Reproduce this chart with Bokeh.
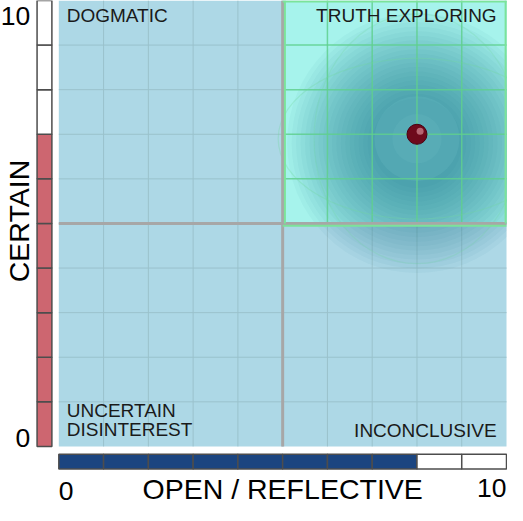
import numpy as np
from bokeh.plotting import figure
from bokeh.models import Range1d
from bokeh.core.properties import value
from bokeh.embed import file_html
from bokeh.resources import INLINE

# ---- data ----
open_reflective = 8      # horizontal score (0-10)
certain = 7              # vertical score (0-10)
segments = list(range(10))
grid_positions = list(range(1, 10))
tick_low, tick_high = "0", "10"
x_title = "OPEN / REFLECTIVE"
y_title = "CERTAIN"
q_tl = "DOGMATIC"
q_tr = "TRUTH EXPLORING"
q_bl = ["UNCERTAIN", "DISINTEREST"]
q_br = "INCONCLUSIVE"

FONT = value("Liberation Sans")


def rx(px):  # layout helper: horizontal pixel in reference -> data units
    return (px - 69) / 45.3


def ry(py):  # layout helper: vertical pixel in reference -> data units
    return (461 - py) / 45.3


p = figure(width=507, height=505,
           x_range=Range1d(rx(10), rx(523)), y_range=Range1d(ry(521), ry(8)),
           x_axis_type=None, y_axis_type=None,
           output_backend="svg", toolbar_location=None, min_border=0)
p.grid.visible = False
p.outline_line_color = None
p.background_fill_color = "white"
p.border_fill_color = "white"

# background
p.quad(left=0, right=10, bottom=0, top=10, fill_color="#ADD8E6", line_color=None)

# light grid
g = np.array(grid_positions, dtype=float)
p.segment(x0=g, y0=0, x1=g, y1=10, line_color="#9AC2CC", line_width=1)
p.segment(x0=0, y0=g, x1=10, y1=g, line_color="#9AC2CC", line_width=1)

# highlighted quadrant
p.quad(left=5, right=10, bottom=5, top=10, fill_color="#A6F3EC", line_color=None)

# shadow around the point
cx, cy = open_reflective, certain - 0.2
for r in np.linspace(2.9, 1.0, 20):
    p.circle(x=cx, y=cy, radius=r, fill_color="#1B6E86", fill_alpha=0.042, line_color=None)
for r, a in [(0.95, 0.08), (0.55, 0.06)]:
    p.circle(x=cx, y=cy + 0.1, radius=r, fill_color="#A6F3EC", fill_alpha=a, line_color=None)

# green grid in quadrant
gq = np.array([v for v in grid_positions if v > 5], dtype=float)
p.segment(x0=gq, y0=5, x1=gq, y1=10, line_color="#5FCF8E", line_width=1.5, line_alpha=0.85)
p.segment(x0=5, y0=gq, x1=10, y1=gq, line_color="#5FCF8E", line_width=1.5, line_alpha=0.85)
# faint perspective curves
p.ellipse(x=cx, y=cy + 0.1, width=6.2, height=3.6, fill_color=None,
          line_color="#6FD69A", line_alpha=0.3, line_width=1.2)
p.ellipse(x=cx, y=cy + 0.1, width=4.6, height=5.6, fill_color=None,
          line_color="#6FD69A", line_alpha=0.22, line_width=1.2)

# quadrant dividers
p.segment(x0=[5, 0], y0=[0, 5], x1=[5, 10], y1=[10, 5], line_color="#A7A7A7", line_width=3)
# quadrant border
p.segment(x0=[5.05, 5.0, 5.0, 9.98], y0=[5.0, 4.95, 9.98, 5.0],
          x1=[5.05, 10, 10, 9.98], y1=[10, 4.95, 9.98, 10],
          line_color="#7BE39A", line_width=2)

# point
p.scatter(x=[open_reflective], y=[certain], size=20, fill_color="#6E0A1C", line_color="#4A0010")
p.scatter(x=[open_reflective + 0.07], y=[certain + 0.07], size=7,
          fill_color="#D38A95", fill_alpha=0.7, line_color=None)

# score bars
seg = np.array(segments, dtype=float)
p.quad(left=rx(47), right=rx(62), bottom=seg, top=seg + 1,
       fill_color=["#CD6670" if s < certain else "white" for s in segments],
       line_color="#4D4D4D", line_width=1.5)
p.quad(left=seg, right=seg + 1, bottom=ry(484), top=ry(469),
       fill_color=["#1B4580" if s < open_reflective else "white" for s in segments],
       line_color="#4D4D4D", line_width=1.5)

# texts (anchored at the vertical middle of the capitals)
big = dict(text_font=FONT, text_color="black", text_baseline="middle")
p.text(x=[rx(40)], y=[ry(23.5)], text=[tick_high], text_align="right", text_font_size="26.5px", **big)
p.text(x=[rx(40)], y=[ry(452)], text=[tick_low], text_align="right", text_font_size="26.5px", **big)
p.text(x=[rx(29)], y=[ry(232)], text=[y_title], text_align="center", angle=np.pi / 2,
       text_font_size="28.5px", **big)
p.text(x=[rx(69)], y=[ry(506)], text=[tick_low], text_align="left", text_font_size="26.5px", **big)
p.text(x=[rx(295.5)], y=[ry(504.5)], text=[x_title], text_align="center", text_font_size="28.5px", **big)
p.text(x=[rx(522)], y=[ry(503.5)], text=[tick_high], text_align="right", text_font_size="26.5px", **big)

small = dict(text_font=FONT, text_color="#1A1A1A", text_baseline="middle", text_font_size="19px")
p.text(x=[rx(77)], y=[ry(23)], text=[q_tl], text_align="left", **small)
p.text(x=[rx(512)], y=[ry(23)], text=[q_tr], text_align="right", **small)
p.text(x=[rx(77), rx(77)], y=[ry(425), ry(443.5)], text=q_bl, text_align="left", **small)
p.text(x=[rx(512)], y=[ry(445)], text=[q_br], text_align="right", **small)

open("out.html", "w").write(file_html(p, INLINE))
